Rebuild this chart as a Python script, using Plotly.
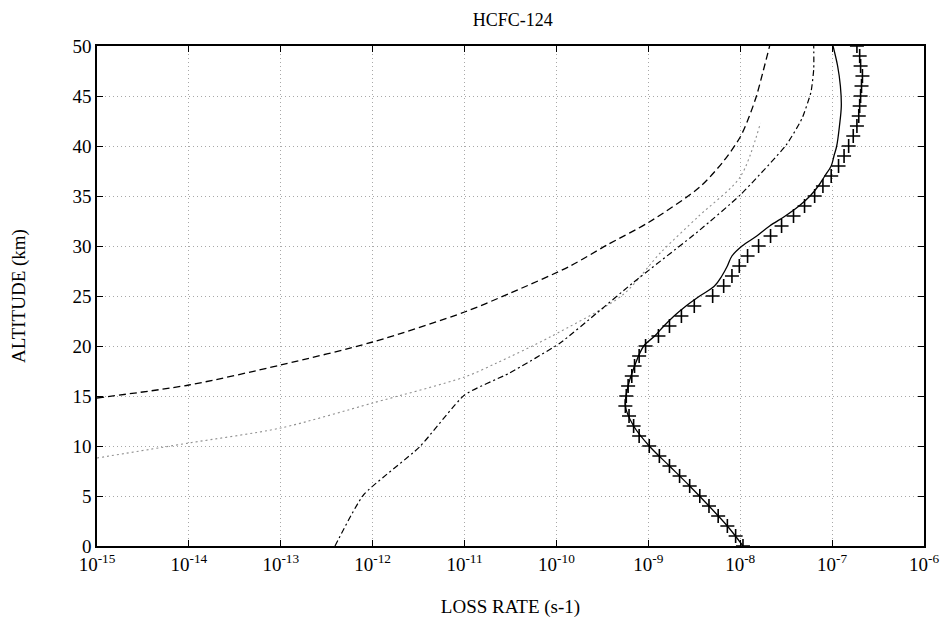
import plotly.graph_objects as go

# ---- data (log10 of loss rate, altitude km) ----
dash_alt = [14.8, 16.1, 18.1, 20.4, 23.4, 25.3, 28.0, 30.1, 32.4, 35.9, 38.5, 40.9, 43.0, 45.1, 47.5, 50.0]
dash_log = [-15.0, -14.0, -13.0, -12.0, -11.0, -10.5, -9.85, -9.45, -8.99, -8.44, -8.18, -8.0, -7.9, -7.82, -7.75, -7.68]

dot_alt = [8.8, 10.3, 11.8, 14.3, 16.9, 18.3, 20.9, 25.1, 29.3, 33.0, 36.9, 42.3]
dot_log = [-15.0, -14.0, -13.0, -12.0, -11.0, -10.65, -10.07, -9.28, -8.87, -8.45, -8.0, -7.78]

dd_alt = [0.0, 5.1, 9.9, 15.1, 17.3, 20.3, 23.3, 26.3, 31.6, 35.1, 40.1, 42.7, 45.4, 47.7, 50.0]
dd_log = [-12.41, -12.10, -11.49, -11.0, -10.51, -9.96, -9.56, -9.17, -8.44, -8.0, -7.50, -7.33, -7.23, -7.20, -7.20]

solid_alt = [0, 2, 4, 6, 8, 10, 12, 14, 16, 18, 20, 21, 22, 23, 24, 25, 26, 27, 28, 29,
             30, 31, 32, 33, 34, 35, 36, 37, 38, 39, 40, 42, 44, 46, 48, 50]
solid_log = [-7.97, -8.14, -8.34, -8.55, -8.77, -8.99, -9.16, -9.25, -9.22, -9.15, -9.05,
             -8.93, -8.83, -8.72, -8.59, -8.44, -8.28, -8.20, -8.14, -8.09,
             -7.98, -7.82, -7.68, -7.51, -7.36, -7.24, -7.15, -7.08, -7.01, -6.98,
             -6.95, -6.92, -6.90, -6.91, -6.94, -6.99]

plus_alt = list(range(0, 51))
plus_log = [-7.97, -8.05, -8.14, -8.24, -8.34, -8.44, -8.55, -8.66, -8.77, -8.88,
            -8.99, -9.10, -9.16, -9.21, -9.25, -9.24, -9.22, -9.18, -9.15, -9.10,
            -9.03, -8.89, -8.77, -8.64, -8.50, -8.30, -8.18, -8.09, -8.01, -7.92,
            -7.80, -7.67, -7.55, -7.42, -7.30, -7.19, -7.10, -7.01, -6.93, -6.87,
            -6.82, -6.77, -6.73, -6.71, -6.70, -6.69, -6.68, -6.67, -6.69, -6.70,
            -6.73]

x_exps = list(range(-15, -5))
x_ticktext = ["10<sup>%d</sup>" % e for e in x_exps]
y_ticks = [0, 5, 10, 15, 20, 25, 30, 35, 40, 45, 50]


def p(lst):
    return [10 ** v for v in lst]


fig = go.Figure()
fig.add_trace(go.Scatter(x=p(dash_log), y=dash_alt, mode="lines", line_shape="spline",
                         line=dict(color="black", width=1.3, dash="7px,4px", smoothing=0.8),
                         showlegend=False))
fig.add_trace(go.Scatter(x=p(dot_log), y=dot_alt, mode="lines", line_shape="spline",
                         line=dict(color="#909090", width=1.1, dash="2px,3px", smoothing=0.8),
                         showlegend=False))
fig.add_trace(go.Scatter(x=p(dd_log), y=dd_alt, mode="lines", line_shape="spline",
                         line=dict(color="black", width=1.2, dash="6px,3px,2px,3px", smoothing=0.5),
                         showlegend=False))
fig.add_trace(go.Scatter(x=p(solid_log), y=solid_alt, mode="lines", line_shape="spline",
                         line=dict(color="black", width=1.3), showlegend=False))
fig.add_trace(go.Scatter(x=p(plus_log), y=plus_alt, mode="markers",
                         marker=dict(symbol="cross-thin", size=10, line=dict(color="black", width=1.6)),
                         showlegend=False))

font = dict(family="Liberation Serif, Times New Roman, serif", color="black")

fig.update_layout(
    width=941, height=619,
    margin=dict(l=97, r=17, t=46, b=73),
    paper_bgcolor="white", plot_bgcolor="white",
    font=dict(size=17, **font),
    title=dict(text="HCFC-124", x=0.545, xanchor="center", y=0.968, yanchor="middle",
               font=dict(size=18, **font)),
)
fig.update_xaxes(
    type="log", range=[-15, -6], automargin=False,
    tickvals=[10 ** e for e in x_exps], ticktext=x_ticktext,
    ticks="inside", ticklen=6, tickcolor="black",
    showline=True, linecolor="black", linewidth=1.5, mirror="ticks",
    showgrid=True, gridcolor="#a8a8a8", griddash="1px,3px", gridwidth=1,
    tickfont=dict(size=19, **font),
    title=dict(text="LOSS RATE (s-1)", font=dict(size=19, **font), standoff=26),
    zeroline=False,
)
fig.update_yaxes(
    range=[0, 50], tickvals=y_ticks, automargin=False,
    ticks="inside", ticklen=6, tickcolor="black",
    showline=True, linecolor="black", linewidth=1.5, mirror="ticks",
    showgrid=True, gridcolor="#a8a8a8", griddash="1px,3px", gridwidth=1,
    tickfont=dict(size=19, **font),
    title=dict(text="ALTITUDE (km)", font=dict(size=19, **font), standoff=42),
    zeroline=False,
)

fig.write_html("out.html", config={"displayModeBar": False},
               post_script="document.body.style.margin='0px';")
